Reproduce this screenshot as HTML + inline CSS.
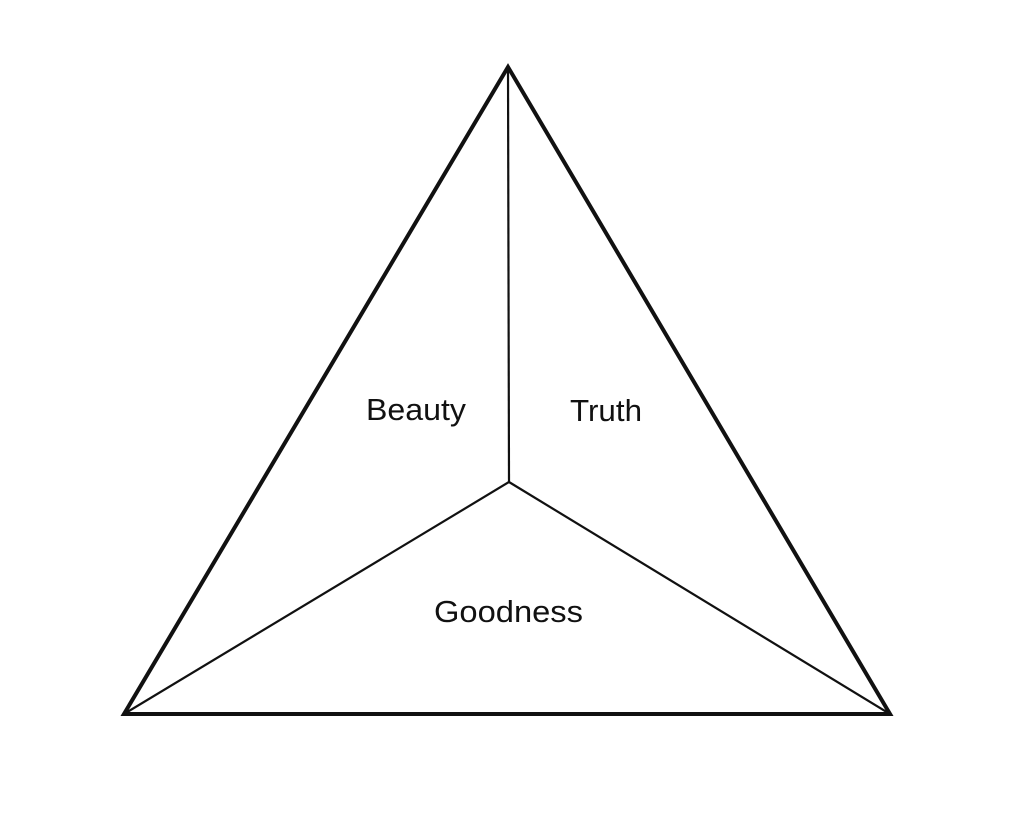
<!DOCTYPE html>
<html><head><style>html,body{margin:0;padding:0;background:#fff;}</style></head>
<body>
<svg width="1024" height="823" viewBox="0 0 1024 823" xmlns="http://www.w3.org/2000/svg">
<rect width="1024" height="823" fill="#fff"/>
<g stroke="#111" fill="none" stroke-linejoin="miter">
<polygon points="508,67 124,714 890,714" stroke-width="4"/>
<line x1="508" y1="67" x2="509" y2="482" stroke-width="2.2"/>
<line x1="509" y1="482" x2="124" y2="714" stroke-width="2.2"/>
<line x1="509" y1="482" x2="890" y2="714" stroke-width="2.2"/>
</g>
<g font-family="Liberation Sans, sans-serif" font-size="31" fill="#111">
<text x="366" y="420" textLength="100" lengthAdjust="spacingAndGlyphs">Beauty</text>
<text x="570" y="421" textLength="72" lengthAdjust="spacingAndGlyphs">Truth</text>
<text x="434" y="622" textLength="149" lengthAdjust="spacingAndGlyphs">Goodness</text>
</g>
</svg>
</body></html>
